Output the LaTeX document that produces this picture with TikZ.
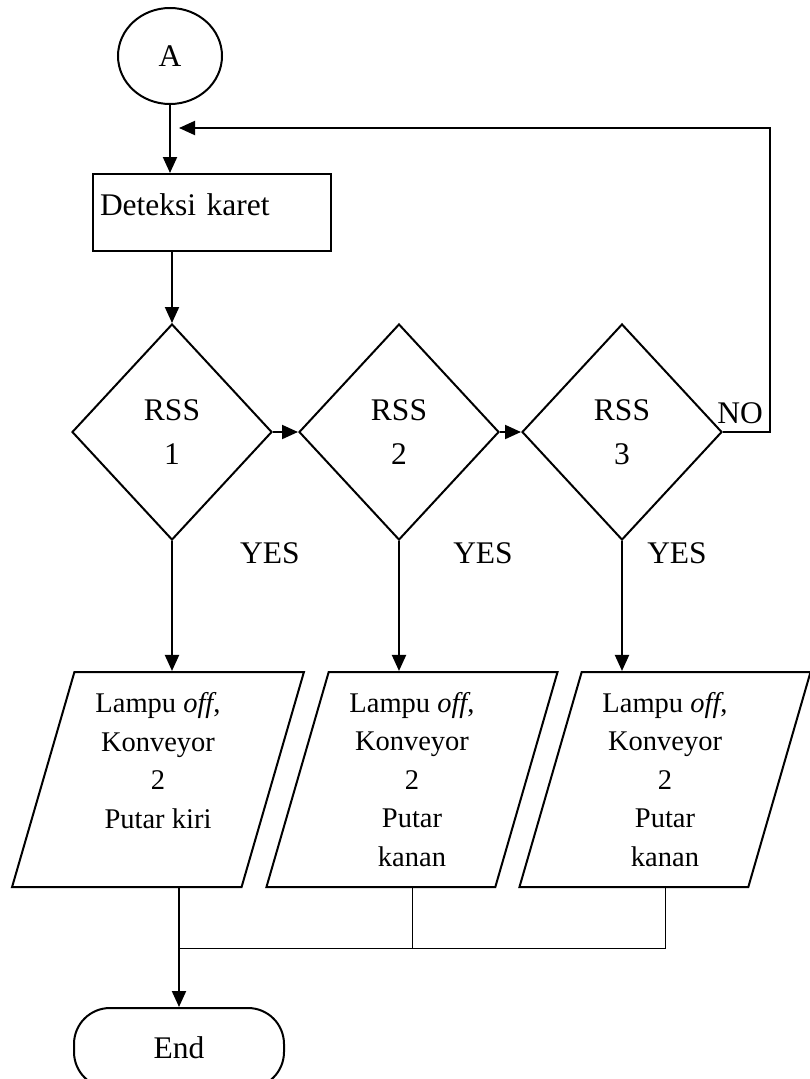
\documentclass[tikz,border=0pt]{standalone}
\usepackage{fontspec}
\setmainfont{Liberation Serif}
\usetikzlibrary{shapes.geometric, arrows.meta, positioning}

\begin{document}
\begin{tikzpicture}[
    x=1pt, y=-1pt,
    line width=2pt,
    every node/.style={font=\fontsize{31.5}{44}\selectfont},
    conn/.style={draw, ellipse, minimum width=104pt, minimum height=96pt, inner sep=0pt},
    proc/.style={draw, rectangle, minimum width=238pt, minimum height=77pt, text width=224pt, align=left, inner sep=7pt, text height=21pt, text depth=15pt},
    decide/.style={draw, diamond, minimum width=200pt, minimum height=216pt, inner sep=0pt, align=center},
    iobox/.style={draw, trapezium, trapezium left angle=75, trapezium right angle=105, trapezium stretches=true, minimum width=292pt, minimum height=215pt, inner sep=0pt, align=center, font=\fontsize{28.5}{38.5}\selectfont},
    endbox/.style={draw, rectangle, rounded corners=36pt, minimum width=210pt, minimum height=80pt},
    lbl/.style={inner sep=0pt},
    arrow/.style={-{Triangle[length=16pt, width=14pt]}},
    thinline/.style={line width=1pt}
]
    \path[use as bounding box, fill=white] (0,0) rectangle (810,1079);

    \node[conn] (A) at (170,56) {A};
    \node[proc] (det) at (212,212.5) {Deteksi karet};
    \node[decide] (d1) at (172,432) {RSS\\1};
    \node[decide] (d2) at (399,432) {RSS\\2};
    \node[decide] (d3) at (622,432) {RSS\\3};
    \node[iobox] (p1) at (158,779.5) {Lampu \textit{off},\\Konveyor\\2\\Putar kiri\\\mbox{}};
    \node[iobox] (p2) at (412,779.5) {Lampu \textit{off},\\Konveyor\\2\\Putar\\kanan};
    \node[iobox] (p3) at (665,779.5) {Lampu \textit{off},\\Konveyor\\2\\Putar\\kanan};
    \node[endbox] (fin) at (179,1048) {End};

    \node[lbl] (yes1) at (270,553) {YES};
    \node[lbl] (yes2) at (483,553) {YES};
    \node[lbl] (yes3) at (677,553) {YES};
    \node[lbl] (no) at (740,413) {NO};

    \draw[arrow] (A) -- (A |- det.north);
    \draw[arrow] (d1 |- det.south) -- (d1.north);
    \draw[arrow] (d1.east) -- (d2.west);
    \draw[arrow] (d2.east) -- (d3.west);
    \draw[arrow] (d1.south) -- (d1.south |- p1.north);
    \draw[arrow] (d2.south) -- (d2.south |- p2.north);
    \draw[arrow] (d3.south) -- (d3.south |- p3.north);

    % NO: back to the start
    \coordinate (back) at (179,128);
    \draw[arrow] (d3.east) -- ++(47,0) |- (back);

    % outputs merge to End
    \coordinate (jn) at (179,948);
    \draw[arrow] (fin |- p1.south) -- (fin.north);
    \draw[thinline] (p2.south) |- (jn);
    \draw[thinline] (p3.south) |- (jn);
\end{tikzpicture}
\end{document}
